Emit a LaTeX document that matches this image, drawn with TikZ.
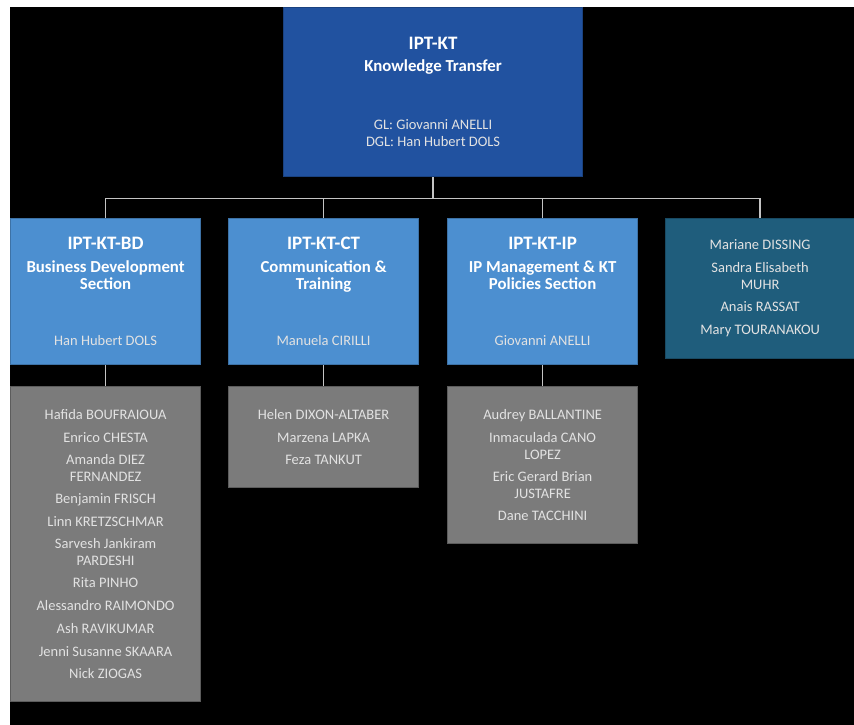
\documentclass[tikz,border=0pt]{standalone}
\usepackage{fontspec}
\setmainfont{Carlito}
\usetikzlibrary{positioning}
\definecolor{ktnavy}{HTML}{2152A0}
\definecolor{ktblue}{HTML}{4C8FD0}
\definecolor{ktteal}{HTML}{1F5D7C}
\definecolor{ktgray}{HTML}{7B7B7B}
\definecolor{kttext}{HTML}{E2E2E2}
\definecolor{ktline}{HTML}{C4C4C4}
\newcommand{\ktunit}[1]{{\fontsize{19}{20}\selectfont\bfseries\color{white}#1}}
\newcommand{\ktsub}[1]{{\fontsize{16.8}{17}\selectfont\bfseries\color{white}#1}}
\tikzset{
  orgbox/.style={
    anchor=north west,
    align=center,
    inner sep=0pt,
    text=kttext,
    line width=1.2pt,
    font=\fontsize{14.5}{17}\selectfont
  },
  headbox/.style={
    orgbox,
    fill=ktnavy,
    draw=ktnavy!80!black,
    minimum width=299pt,
    minimum height=169pt
  },
  secbox/.style={
    orgbox,
    fill=ktblue,
    draw=ktblue!80!black,
    minimum width=190pt,
    minimum height=146pt
  },
  staffbox/.style={
    orgbox,
    fill=ktteal,
    draw=ktteal!80!black,
    minimum width=189pt,
    minimum height=140pt
  },
  listbox/.style={
    orgbox,
    fill=ktgray,
    draw=ktgray!75!black,
    minimum width=190pt
  },
  orgline/.style={
    draw=ktline,
    line width=1.4pt
  }
}

\begin{document}
\begin{tikzpicture}[x=1pt, y=-1pt]
    \useasboundingbox (0,0) rectangle (854,725);
    \fill[white] (0,0) rectangle (854,725);
    \fill[black] (10,7) rectangle (854,725);

    % head of the group
    \node[headbox] (kt) at (283,7) {\ktunit{IPT-KT}\\[5pt]\ktsub{Knowledge Transfer}\\[41pt]GL: Giovanni ANELLI\\DGL: Han Hubert DOLS};

    % sections
    \node[secbox] (bd) at (10,218) {\ktunit{IPT-KT-BD}\\[6pt]\ktsub{Business Development}\\\ktsub{Section}\\[39pt]Han Hubert DOLS};
    \node[secbox] (ct) at (228,218) {\ktunit{IPT-KT-CT}\\[6pt]\ktsub{Communication \&}\\\ktsub{Training}\\[39pt]Manuela CIRILLI};
    \node[secbox] (ip) at (447,218) {\ktunit{IPT-KT-IP}\\[6pt]\ktsub{IP Management \& KT}\\\ktsub{Policies Section}\\[39pt]Giovanni ANELLI};
    \node[staffbox] (staff) at (665,218) {Mariane DISSING\\[6pt]Sandra Elisabeth\\MUHR\\[5pt]Anais RASSAT\\[6pt]Mary TOURANAKOU};

    % members
    \node[listbox, minimum height=315pt] (bdlist) at (10,386) {Hafida BOUFRAIOUA\\[5.5pt]Enrico CHESTA\\[5.5pt]Amanda DIEZ\\FERNANDEZ\\[5pt]Benjamin FRISCH\\[6pt]Linn KRETZSCHMAR\\[5pt]Sarvesh Jankiram\\PARDESHI\\[5pt]Rita PINHO\\[6pt]Alessandro RAIMONDO\\[5.5pt]Ash RAVIKUMAR\\[6pt]Jenni Susanne SKAARA\\[5pt]Nick ZIOGAS};
    \node[listbox, minimum height=101pt] (ctlist) at (228,386) {Helen DIXON-ALTABER\\[5.5pt]Marzena LAPKA\\[5.5pt]Feza TANKUT};
    \node[listbox, minimum height=157pt] (iplist) at (447,386) {Audrey BALLANTINE\\[5.5pt]Inmaculada CANO\\LOPEZ\\[5pt]Eric Gerard Brian\\JUSTAFRE\\[5pt]Dane TACCHINI};

    \draw[orgline] (kt.south) -- ++(0,21) -| (bd.north);
    \draw[orgline] (kt.south) -- ++(0,21) -| (ct.north);
    \draw[orgline] (kt.south) -- ++(0,21) -| (ip.north);
    \draw[orgline] (kt.south) -- ++(0,21) -| (staff.north);
    \draw[orgline] (bd.south) -- (bdlist.north);
    \draw[orgline] (ct.south) -- (ctlist.north);
    \draw[orgline] (ip.south) -- (iplist.north);
\end{tikzpicture}
\end{document}
